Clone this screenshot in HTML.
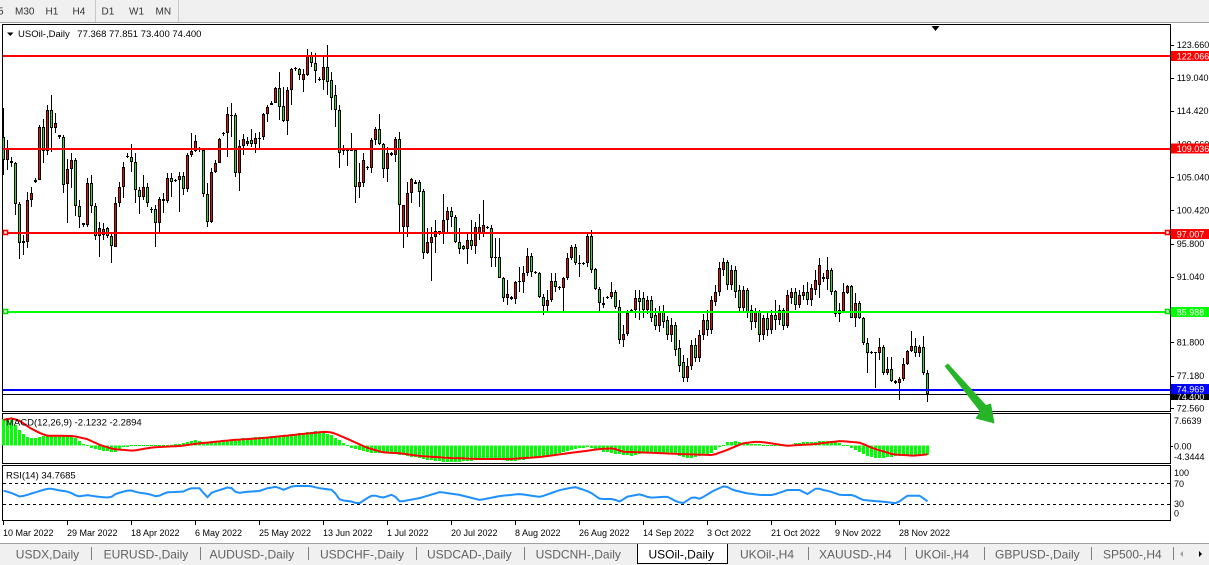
<!DOCTYPE html>
<html><head><meta charset="utf-8">
<style>
html,body{margin:0;padding:0;width:1209px;height:565px;overflow:hidden;background:#fff;}
svg{display:block}
</style></head><body>
<svg id="s" width="1209" height="565" viewBox="0 0 1209 565" xmlns="http://www.w3.org/2000/svg" font-family="Liberation Sans, Arial, sans-serif">
<rect x="0" y="0" width="1209" height="565" fill="#fff"/>
<!-- toolbar -->
<rect x="0" y="0" width="1209" height="23" fill="#f0f0f0"/>
<line x1="0" y1="22.5" x2="1209" y2="22.5" stroke="#a0a0a0"/>
<line x1="95.5" y1="0" x2="95.5" y2="22" stroke="#c8c8c8"/>
<line x1="178.5" y1="0" x2="178.5" y2="22" stroke="#c8c8c8"/>
<g font-size="10" fill="#333">
<text x="-2" y="14.5">5</text>
<text x="15" y="14.5">M30</text>
<text x="45.5" y="14.5">H1</text>
<text x="72.5" y="14.5">H4</text>
<text x="101.5" y="14.5">D1</text>
<text x="129" y="14.5">W1</text>
<text x="155.5" y="14.5">MN</text>
</g>
<!-- panels -->
<rect x="2.5" y="24.5" width="1168" height="387" fill="none" stroke="#000"/>
<rect x="2.5" y="413.5" width="1168" height="50" fill="none" stroke="#000"/>
<rect x="2.5" y="465.5" width="1168" height="55" fill="none" stroke="#000"/>
<polygon points="931.5,26 939.5,26 935.5,31" fill="#000"/>
<g id="candles" shape-rendering="crispEdges"></g>
<!-- horizontal lines -->
<g shape-rendering="crispEdges">
<rect x="3" y="55" width="1167" height="2" fill="#ff0000"/>
<rect x="3" y="148" width="1167" height="2" fill="#ff0000"/>
<rect x="3" y="232" width="1167" height="2" fill="#ff0000"/>
<rect x="3" y="311" width="1167" height="2" fill="#00ff00"/>
<rect x="3" y="389" width="1167" height="2" fill="#0000ff"/>
<rect x="3" y="394" width="1167" height="1" fill="#000"/>
</g>
<rect x="3.5" y="230.5" width="4" height="4" fill="#fff" stroke="#ff0000" stroke-width="1.6"/>
<rect x="1165.5" y="230.5" width="4" height="4" fill="#fff" stroke="#ff0000" stroke-width="1.6"/>
<rect x="3.5" y="309.5" width="4" height="4" fill="#fff" stroke="#00e000" stroke-width="1.6"/>
<rect x="1165.5" y="309.5" width="4" height="4" fill="#fff" stroke="#00e000" stroke-width="1.6"/>
<!-- header -->
<polygon points="7,32.5 13.5,32.5 10.25,36" fill="#000"/>
<text x="18" y="37" font-size="9.5" fill="#000">USOil-,Daily</text>
<text x="77.3" y="37" font-size="9.5" fill="#000">77.368 77.851 73.400 74.400</text>
<!-- MACD / RSI -->
<g id="macd" shape-rendering="crispEdges"></g>
<polyline id="sig" fill="none" stroke="#ff0000" stroke-width="2"/>
<g shape-rendering="crispEdges">
<line x1="3" y1="483.5" x2="1170" y2="483.5" stroke="#000" stroke-dasharray="3 3"/>
<line x1="3" y1="504.5" x2="1170" y2="504.5" stroke="#000" stroke-dasharray="3 3"/>
</g>
<polyline id="rsi" fill="none" stroke="#1e90ff" stroke-width="2"/>
<text x="6" y="425.5" font-size="9.5" fill="#000">MACD(12,26,9) -2.1232 -2.2894</text>
<text x="6" y="478.5" font-size="9.5" fill="#000">RSI(14) 34.7685</text>
<!-- green arrow -->
<polygon points="944.5,366 948,363.5 986,405 991,403.5 994.5,423.5 975.5,418.5 980,411.5" fill="#26b526"/>
<!-- right axis -->
<g id="axis" font-size="9" fill="#000"></g>
<g font-size="9">
<rect x="1171" y="51" width="38" height="10" fill="#ff0000"/><text x="1176.7" y="59.3" fill="#fff">122.066</text>
<rect x="1171" y="143.5" width="38" height="10" fill="#ff0000"/><text x="1176.7" y="152" fill="#fff">109.036</text>
<rect x="1171" y="229" width="38" height="10" fill="#ff0000"/><text x="1176.7" y="237.3" fill="#fff">97.007</text>
<rect x="1171" y="307" width="38" height="10" fill="#00ff00"/><text x="1176.7" y="315.3" fill="#fff">85.988</text>
<rect x="1171" y="393" width="38" height="7" fill="#000"/><text x="1176.7" y="400" fill="#fff">74.400</text>
<rect x="1171" y="384" width="38" height="10" fill="#0000ff"/><text x="1176.7" y="392.3" fill="#fff">74.969</text>
<text x="1174" y="424" fill="#000">7.6639</text>
<text x="1174" y="449.5" fill="#000">0.00</text>
<text x="1174" y="460" fill="#000">-4.3444</text>
<text x="1174" y="476" fill="#000">100</text>
<text x="1174" y="487" fill="#000">70</text>
<text x="1174" y="507" fill="#000">30</text>
<text x="1174" y="516.5" fill="#000">0</text>
</g>
<g shape-rendering="crispEdges" stroke="#000">
<line x1="1170" y1="446.5" x2="1173" y2="446.5"/>
</g>
<!-- date axis -->
<g id="dates" font-size="9" fill="#000"></g>
<!-- tabs -->
<rect x="0" y="543" width="1209" height="22" fill="#f0f0f0"/>
<line x1="0" y1="543.5" x2="1209" y2="543.5" stroke="#a0a0a0"/>
<rect x="637" y="544" width="91" height="19" fill="#fff"/>
<polyline points="637.5,544 637.5,563.5 727.5,563.5 727.5,544" fill="none" stroke="#000"/>
<g stroke="#808080" shape-rendering="crispEdges">
<line x1="91.5" y1="547" x2="91.5" y2="560"/>
<line x1="200.5" y1="547" x2="200.5" y2="560"/>
<line x1="308.5" y1="547" x2="308.5" y2="560"/>
<line x1="416.5" y1="547" x2="416.5" y2="560"/>
<line x1="524.5" y1="547" x2="524.5" y2="560"/>
<line x1="808.5" y1="547" x2="808.5" y2="560"/>
<line x1="905.5" y1="547" x2="905.5" y2="560"/>
<line x1="984.5" y1="547" x2="984.5" y2="560"/>
<line x1="1091.5" y1="547" x2="1091.5" y2="560"/>
<line x1="1173.5" y1="547" x2="1173.5" y2="560"/>
</g>
<g font-size="12" fill="#606060">
<text x="15.8" y="558.5">USDX,Daily</text>
<text x="103.6" y="558.5">EURUSD-,Daily</text>
<text x="209.5" y="558.5">AUDUSD-,Daily</text>
<text x="320" y="558.5">USDCHF-,Daily</text>
<text x="427" y="558.5">USDCAD-,Daily</text>
<text x="535.6" y="558.5">USDCNH-,Daily</text>
<text x="648.5" y="558.5" fill="#000">USOil-,Daily</text>
<text x="740" y="558.5">UKOil-,H4</text>
<text x="819" y="558.5">XAUUSD-,H4</text>
<text x="915" y="558.5">UKOil-,H4</text>
<text x="995" y="558.5">GBPUSD-,Daily</text>
<text x="1103" y="558.5">SP500-,H4</text>
</g>
<polygon points="1183,551 1183,557 1180,554" fill="#a0a0a0"/>
<polygon points="1199,551 1199,557 1202,554" fill="#000"/>
</svg>
<script>
(function(){
var C=[
[137,160,108,175,'g'],[148,160,140,170,'r'],[161,163,157,167,'g'],[163,204,162,215,'g'],[204,243,202,259,'g'],
[241,243,235,255,'r'],[200,242,192,248,'r'],[193,200,187,207,'r'],[180,182,178,183,'r'],[127,180,125,180,'r'],
[127,151,119,163,'g'],[110,151,105,155,'r'],[110,128,95,152,'g'],[123,128,113,133,'r'],[135,137,135,139,'g'],
[137,185,135,193,'g'],[169,184,159,223,'r'],[160,169,153,188,'r'],[160,206,158,216,'g'],[206,217,200,228,'g'],
[223,225,223,227,'g'],[183,225,178,227,'r'],[183,206,175,213,'g'],[206,236,203,240,'g'],[228,236,222,257,'r'],
[229,235,223,240,'r'],[228,236,227,238,'g'],[236,246,233,263,'g'],[203,247,197,247,'r'],[187,203,182,207,'r'],
[167,187,162,198,'r'],[156,157,153,158,'r'],[157,162,144,172,'g'],[162,190,153,203,'g'],[190,197,187,214,'g'],
[187,197,175,200,'r'],[187,203,183,207,'g'],[209,210,207,213,'g'],[209,223,205,247,'g'],[199,223,197,233,'r'],
[199,201,193,213,'r'],[178,201,173,203,'r'],[178,182,173,197,'g'],[180,181,179,182,'r'],[176,180,172,212,'r'],
[176,189,172,195,'g'],[155,189,153,192,'r'],[151,155,133,157,'r'],[141,151,135,152,'r'],[148,149,147,152,'g'],
[150,194,148,197,'g'],[194,222,183,227,'g'],[172,222,168,223,'r'],[163,172,160,173,'r'],[139,163,138,163,'r'],
[133,134,132,136,'r'],[114,133,107,157,'r'],[115,116,103,137,'g'],[115,173,113,177,'g'],[146,173,140,191,'r'],
[139,146,134,155,'r'],[141,144,137,146,'r'],[140,144,129,147,'g'],[138,144,133,153,'r'],[138,139,132,148,'r'],
[114,137,113,140,'r'],[107,114,105,122,'r'],[103,105,101,105,'r'],[88,103,87,103,'r'],[88,107,72,120,'g'],
[106,121,87,122,'g'],[90,121,87,135,'r'],[69,90,68,105,'r'],[68,69,67,71,'r'],[69,75,68,80,'g'],
[74,80,69,92,'r'],[55,75,49,76,'r'],[55,63,52,67,'g'],[63,71,53,83,'g'],[79,80,77,81,'g'],
[67,80,57,90,'r'],[67,82,45,95,'g'],[80,98,72,110,'g'],[95,110,85,127,'g'],[110,153,105,168,'g'],
[149,151,145,155,'g'],[149,151,149,166,'g'],[149,151,133,151,'r'],[150,187,150,203,'g'],[182,187,163,198,'r'],
[160,183,153,187,'r'],[167,168,166,170,'r'],[140,168,138,173,'r'],[129,140,127,145,'r'],[129,144,114,145,'g'],
[144,169,143,178,'g'],[153,169,147,182,'r'],[153,155,152,156,'g'],[139,155,137,162,'r'],[139,205,132,232,'g'],
[205,227,205,248,'r'],[193,227,182,237,'r'],[179,193,178,203,'r'],[182,184,180,184,'r'],[182,192,180,207,'g'],
[191,253,189,259,'g'],[242,253,228,254,'r'],[237,243,227,281,'r'],[231,237,220,253,'r'],[231,233,231,235,'g'],
[220,233,194,244,'r'],[211,220,207,233,'r'],[211,217,207,227,'g'],[217,242,215,243,'g'],[242,249,228,254,'g'],
[246,249,245,250,'g'],[240,249,233,264,'r'],[240,246,220,250,'g'],[227,246,222,254,'r'],[227,233,214,240,'r'],
[225,233,200,237,'r'],[227,228,226,229,'r'],[228,258,225,267,'g'],[257,258,238,267,'r'],[257,278,238,278,'g'],
[278,298,277,302,'g'],[294,298,280,305,'r'],[297,299,296,300,'r'],[282,299,281,304,'r'],[281,282,267,292,'r'],
[273,282,266,293,'r'],[256,273,248,276,'r'],[256,272,253,277,'g'],[272,273,271,274,'g'],[273,297,272,298,'g'],
[297,306,294,315,'g'],[300,306,290,313,'r'],[281,300,273,302,'r'],[281,287,273,292,'g'],[287,288,286,290,'r'],
[278,288,277,312,'r'],[258,278,253,280,'r'],[247,258,245,260,'r'],[247,263,244,265,'g'],[263,264,255,277,'g'],
[263,264,262,265,'r'],[236,263,232,267,'r'],[236,270,230,273,'g'],[269,289,268,290,'g'],[289,303,287,311,'g'],
[303,305,297,308,'g'],[297,298,296,299,'r'],[292,297,282,299,'r'],[292,307,290,309,'g'],[307,340,300,344,'g'],
[334,340,325,347,'r'],[313,334,310,336,'r'],[310,311,309,312,'r'],[298,310,290,318,'r'],[298,302,290,320,'g'],
[298,310,292,318,'g'],[300,310,296,314,'r'],[300,318,296,322,'g'],[315,326,308,330,'g'],[312,326,306,332,'r'],
[312,322,305,328,'g'],[320,335,316,340,'g'],[325,335,318,342,'r'],[325,350,322,356,'g'],[348,366,340,372,'g'],
[362,378,355,382,'g'],[366,378,358,382,'r'],[345,366,340,370,'r'],[345,358,338,362,'g'],[335,358,330,362,'r'],
[320,335,314,340,'r'],[320,330,310,336,'g'],[300,330,296,334,'r'],[292,302,285,306,'r'],[268,292,262,296,'r'],
[262,270,258,276,'r'],[262,285,260,290,'g'],[270,285,265,290,'r'],[270,292,266,298,'g'],[290,308,285,312,'g'],
[290,308,286,312,'r'],[290,312,288,318,'g'],[310,322,305,330,'g'],[312,322,308,328,'r'],[312,335,310,342,'g'],
[318,335,315,340,'r'],[318,330,312,336,'g'],[315,330,310,334,'r'],[315,320,300,330,'g'],[310,320,305,325,'r'],
[310,326,308,330,'g'],[295,326,290,328,'r'],[292,298,288,304,'r'],[292,305,288,310,'g'],[295,305,290,308,'r'],
[292,296,285,300,'r'],[292,300,282,305,'g'],[288,300,284,306,'r'],[280,290,270,295,'r'],[265,285,258,298,'r'],
[277,279,273,282,'r'],[270,279,257,290,'r'],[270,292,268,295,'g'],[291,314,290,317,'g'],[310,314,303,322,'r'],
[292,311,283,312,'r'],[286,293,285,294,'r'],[286,318,285,318,'g'],[303,318,293,327,'r'],[303,318,301,319,'g'],
[318,343,317,345,'g'],[343,353,338,373,'g'],[352,353,351,354,'g'],[352,353,352,388,'r'],[347,353,338,360,'r'],
[347,373,345,375,'g'],[369,373,357,375,'r'],[369,381,357,382,'g'],[381,383,380,384,'g'],[379,383,377,400,'r'],
[364,379,358,381,'r'],[351,364,350,365,'r'],[346,351,331,352,'r'],[346,353,338,357,'g'],[347,353,345,357,'r'],
[347,373,336,375,'g'],[373,394,370,402,'g']
];
var s='';
for(var k=0;k<C.length;k++){
 var c=C[k],px=3+4*k;
 s+='<rect x="'+px+'" y="'+c[2]+'" width="1" height="'+(c[3]-c[2])+'" fill="#000"/>';
 if(c[1]-c[0]<2){
  s+='<rect x="'+(px-1)+'" y="'+c[0]+'" width="3" height="1" fill="#000"/>';
 } else {
  s+='<rect x="'+(px-1)+'" y="'+c[0]+'" width="3" height="'+(c[1]-c[0])+'" fill="#000"/>';
  if(c[1]-c[0]>2) s+='<rect x="'+px+'" y="'+(c[0]+1)+'" width="1" height="'+(c[1]-c[0]-2)+'" fill="'+(c[4]=='g'?'#00ff00':'#ff0000')+'"/>';
 }
}
document.getElementById('candles').innerHTML=s;
var N=C.length;
function interp(P,x){
 if(x<=P[0][0])return P[0][1];
 for(var i=1;i<P.length;i++){if(x<=P[i][0]){var a=P[i-1],b=P[i];return a[1]+(b[1]-a[1])*(x-a[0])/(b[0]-a[0]);}}
 return P[P.length-1][1];
}
var H=[[0,419],[1,418],[2,420],[3,425],[4,430],[5,434],[6,437],[8,438],[10,436],[14,435],[16,436],[18,438],[19,441],[20,444],[21,445],[22,448],[24,450],[26,451],[28,452],[29,450],[30,447],[32,446],[36,445],[40,445],[44,444],[46,442],[48,440],[50,442],[52,441],[56,440],[60,438],[64,437],[68,436],[72,434],[76,432],[78,431],[80,432],[82,435],[84,440],[86,446],[88,449],[90,451],[92,453],[96,453],[100,455],[104,458],[108,461],[112,462],[116,461],[120,459],[124,460],[128,461],[132,458],[136,456],[140,452],[144,448],[146,447],[148,449],[150,451.7],[153,454],[157,455.7],[160,453],[167,453],[170,457],[172,458.3],[174,456],[177,453],[179,447],[181,442],[183,441],[185,443],[188,444],[192,445],[196,446],[198,443],[201,442],[205,441],[207,441],[209,443],[211,446],[213,450],[215,454],[217,457],[219,458],[222,457],[225,455],[231,455]];
var base=445.5,m='';
for(var k=0;k<N;k++){
 var v=Math.round(interp(H,k));
 var y1=Math.min(v,base),y2=Math.max(v,base);
 if(y2-y1<1){y1=445;y2=446;}
 m+='<rect x="'+(2+4*k)+'" y="'+y1+'" width="3" height="'+(y2-y1)+'" fill="#00ff00"/>';
}
document.getElementById('macd').innerHTML=m;
var S=[[3,420],[12,418.3],[20,421],[30,428],[40,433],[47,435.7],[73,436],[87,439],[100,445],[113,449],[133,450.7],[153,447.3],[180,446],[200,443.3],[233,440],[260,438.3],[293,435],[325,431.7],[333,432.7],[350,440],[367,447.7],[383,452.3],[400,453.3],[420,456],[450,458],[480,459],[510,459],[540,457],[570,453],[600,449],[613,448.3],[623,451.7],[650,452.7],[687,454.3],[713,455],[727,450],[743,443.3],[757,441.7],[767,442.7],[787,445.7],[813,444.3],[840,441],[860,442.7],[873,448.3],[893,454.3],[913,455.7],[928,454.3]];
var R=[[3,490.7],[10,492.3],[20,496.7],[27,495],[33,493],[43,490],[50,488.3],[57,490],[67,491.5],[72,493.3],[78,496.7],[87,495],[97,496.7],[110,497.7],[117,493.3],[130,490],[137,492.3],[150,494.3],[157,496.7],[167,492.3],[183,491.7],[190,488.3],[200,488.3],[207,497.7],[212,492.3],[220,490],[230,486.7],[237,493.3],[247,491.7],[260,491],[267,488.3],[277,486.7],[283,490],[293,486],[310,486],[320,488.3],[333,490],[340,500],[353,501.7],[358,504],[367,498.3],[373,495],[383,497.7],[393,494.3],[400,501.7],[420,498],[440,492],[460,495],[480,500],[500,496],[520,494],[540,497],[560,490],[575,487],[590,492],[600,499],[613,499],[620,501.7],[627,496.7],[640,494.3],[650,497.7],[667,496.7],[677,501.7],[683,503.3],[693,496.7],[700,499],[713,491],[725,485.7],[733,490],[747,493.3],[760,495],[773,495],[787,490],[800,490],[807,494.3],[817,487.7],[823,490],[830,491.3],[840,495],[853,495],[863,500],[883,501.7],[897,503.3],[907,495.7],[920,495.7],[928,501.7]];
var ps='',pr='';
for(var k=0;k<N;k++){var x=3.5+4*k;ps+=x+','+interp(S,x).toFixed(1)+' ';pr+=x+','+interp(R,x).toFixed(1)+' ';}
document.getElementById('sig').setAttribute('points',ps);
document.getElementById('rsi').setAttribute('points',pr);
var A=[['123.660',44.7],['119.040',77.7],['114.420',110.7],['109.660',144],['105.040',177],['100.420',210],['95.800',243.5],['91.040',276.7],['81.800',342.3],['77.180',375.5],['72.560',408.3]];
var a='';
for(var i=0;i<A.length;i++){
 a+='<line x1="1170" y1="'+(Math.round(A[i][1])+0.5)+'" x2="1174" y2="'+(Math.round(A[i][1])+0.5)+'" stroke="#000"/>';
 a+='<text x="1176.7" y="'+(A[i][1]+3.3).toFixed(1)+'">'+A[i][0]+'</text>';
}
document.getElementById('axis').innerHTML=a;
var D=['10 Mar 2022','29 Mar 2022','18 Apr 2022','6 May 2022','25 May 2022','13 Jun 2022','1 Jul 2022','20 Jul 2022','8 Aug 2022','26 Aug 2022','14 Sep 2022','3 Oct 2022','21 Oct 2022','9 Nov 2022','28 Nov 2022'];
var d='';
for(var j=0;j<D.length;j++){
 var tx=3.5+64*j;
 d+='<line x1="'+tx+'" y1="520" x2="'+tx+'" y2="525" stroke="#000"/>';
 d+='<text x="'+(tx-0.5)+'" y="536">'+D[j]+'</text>';
}
document.getElementById('dates').innerHTML=d;
})();
</script>
</body></html>
